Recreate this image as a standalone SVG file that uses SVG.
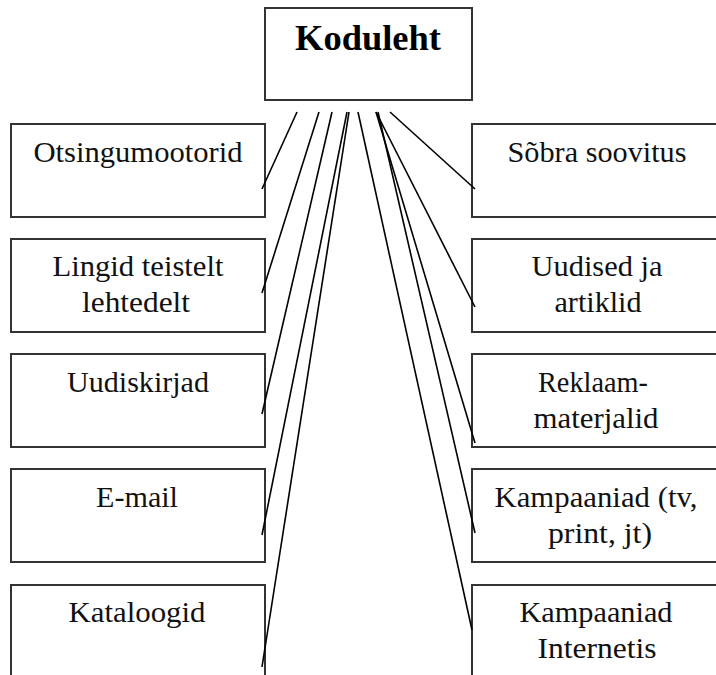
<svg xmlns="http://www.w3.org/2000/svg" width="716" height="675" viewBox="0 0 716 675">
<style>
.box{fill:#fff;stroke:#333;stroke-width:2}
.t{font-family:'Liberation Serif','DejaVu Serif',serif;font-size:29px;fill:#111;text-anchor:middle}
.h{font-family:'Liberation Serif','DejaVu Serif',serif;font-size:35px;font-weight:bold;fill:#000;text-anchor:middle}
.c{stroke:#000;stroke-width:1.6;fill:none}
</style>
<rect width="716" height="675" fill="#fff"/>
<g id="koduleht"><rect class="box" x="265" y="8" width="207" height="92"/><text class="h" x="368" y="50" textLength="146" lengthAdjust="spacingAndGlyphs">Koduleht</text></g>
<g id="otsingumootorid"><rect class="box" x="11" y="124" width="254" height="93"/><text class="t" x="138" y="162" textLength="209" lengthAdjust="spacingAndGlyphs">Otsingumootorid</text></g>
<g id="lingid"><rect class="box" x="11" y="239" width="254" height="93"/><text class="t" x="138" y="276" textLength="171" lengthAdjust="spacingAndGlyphs">Lingid teistelt</text><text class="t" x="136" y="312" textLength="108" lengthAdjust="spacingAndGlyphs">lehtedelt</text></g>
<g id="uudiskirjad"><rect class="box" x="11" y="354" width="254" height="93"/><text class="t" x="138" y="392" textLength="142" lengthAdjust="spacingAndGlyphs">Uudiskirjad</text></g>
<g id="email"><rect class="box" x="11" y="469" width="254" height="93"/><text class="t" x="137" y="507" textLength="82" lengthAdjust="spacingAndGlyphs">E-mail</text></g>
<g id="kataloogid"><rect class="box" x="11" y="585" width="254" height="120"/><text class="t" x="137" y="622" textLength="137" lengthAdjust="spacingAndGlyphs">Kataloogid</text></g>
<g id="sobra"><rect class="box" x="472" y="124" width="254" height="93"/><text class="t" x="597" y="162" textLength="179" lengthAdjust="spacingAndGlyphs">Sõbra soovitus</text></g>
<g id="uudised"><rect class="box" x="472" y="239" width="254" height="93"/><text class="t" x="597" y="276" textLength="131" lengthAdjust="spacingAndGlyphs">Uudised ja</text><text class="t" x="598" y="312" textLength="87" lengthAdjust="spacingAndGlyphs">artiklid</text></g>
<g id="reklaam"><rect class="box" x="472" y="354" width="254" height="93"/><text class="t" x="593" y="392" textLength="110" lengthAdjust="spacingAndGlyphs">Reklaam-</text><text class="t" x="596" y="428" textLength="125" lengthAdjust="spacingAndGlyphs">materjalid</text></g>
<g id="kampaaniad-tv"><rect class="box" x="472" y="469" width="254" height="93"/><text class="t" x="596" y="507" textLength="203" lengthAdjust="spacingAndGlyphs">Kampaaniad (tv,</text><text class="t" x="600" y="543" textLength="104" lengthAdjust="spacingAndGlyphs">print, jt)</text></g>
<g id="kampaaniad-internet"><rect class="box" x="472" y="585" width="254" height="120"/><text class="t" x="596" y="622" textLength="153" lengthAdjust="spacingAndGlyphs">Kampaaniad</text><text class="t" x="597" y="658" textLength="119" lengthAdjust="spacingAndGlyphs">Internetis</text></g>
<g id="connectors">
<line class="c" x1="297" y1="112" x2="262" y2="189"/>
<line class="c" x1="319" y1="112" x2="262" y2="293"/>
<line class="c" x1="332" y1="112" x2="262" y2="414"/>
<line class="c" x1="347" y1="112" x2="262" y2="535"/>
<line class="c" x1="349" y1="112" x2="262" y2="667"/>
<line class="c" x1="390" y1="112" x2="475" y2="189"/>
<line class="c" x1="376" y1="112" x2="475" y2="307"/>
<line class="c" x1="376" y1="112" x2="475" y2="443"/>
<line class="c" x1="378" y1="112" x2="475" y2="533"/>
<line class="c" x1="358" y1="112" x2="472" y2="630"/>
</g>
</svg>
